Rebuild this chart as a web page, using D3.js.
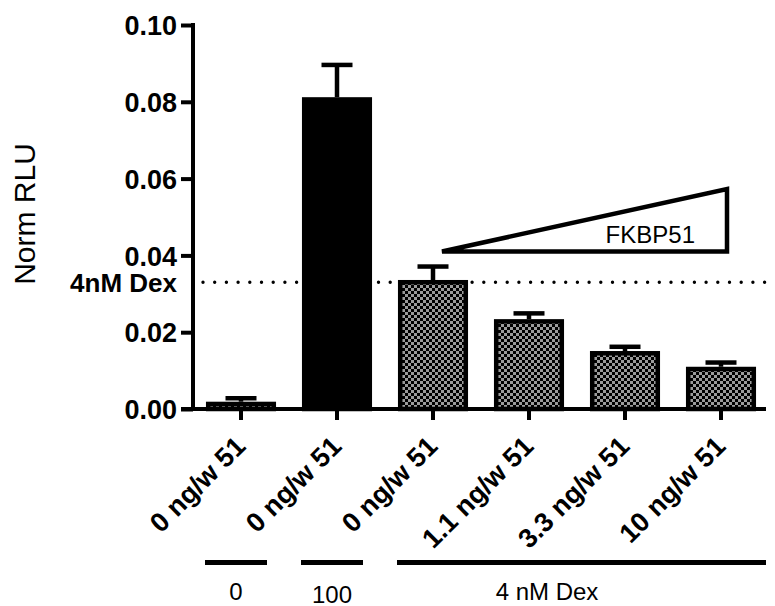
<!DOCTYPE html>
<html>
<head>
<meta charset="utf-8">
<script src="https://cdn.jsdelivr.net/npm/d3@7"></script>
<style>
  html, body { margin: 0; padding: 0; background: #fff; }
  svg { display: block; }
  text { font-family: "Liberation Sans", Arial, sans-serif; fill: #000; }
</style>
</head>
<body>
<svg id="chart" width="775" height="606"></svg>
<script>
// ---- data ----
const categories = ["0 ng/w 51 (0)", "0 ng/w 51 (100)", "0 ng/w 51 (Dex)", "1.1 ng/w 51", "3.3 ng/w 51", "10 ng/w 51"];
const tickLabels = ["0 ng/w 51", "0 ng/w 51", "0 ng/w 51", "1.1 ng/w 51", "3.3 ng/w 51", "10 ng/w 51"];
const means = [0.0019, 0.0812, 0.0336, 0.0234, 0.0151, 0.0110];
const sems  = [0.0009, 0.0084, 0.0035, 0.0015, 0.0011, 0.0011];
const fills = ["checker", "black", "checker", "checker", "checker", "checker"];
const yTicks = [0, 0.02, 0.04, 0.06, 0.08, 0.10];
const dexLevel = 0.033;
const groupNames = ["0", "100", "4 nM Dex"];
const groupStart = [0, 1, 2];
const groupEnd = [0, 1, 5];
const triangleBase = 0.041, triangleTop = 0.0573;

// ---- layout ----
const svg = d3.select("#chart");
const x0 = 193, y0 = 409, yTop = 25;
const x = d3.scaleBand().domain(categories).range([x0, x0 + 576]).paddingInner(0.27).paddingOuter(0.135);
const y = d3.scaleLinear().domain([0, 0.1]).range([y0, yTop]);
const bw = x.bandwidth();
const cx = c => x(c) + bw / 2;
const sw = 4.5;

const defs = svg.append("defs");
const pat = defs.append("pattern").attr("id", "checker").attr("width", 6).attr("height", 6)
  .attr("patternUnits", "userSpaceOnUse");
pat.append("rect").attr("width", 6).attr("height", 6).attr("fill", "#9b9b9b");
pat.append("rect").attr("width", 3).attr("height", 3).attr("fill", "#000");
pat.append("rect").attr("x", 3).attr("y", 3).attr("width", 3).attr("height", 3).attr("fill", "#000");

// dotted reference line
svg.append("line")
  .attr("x1", x0 + 10).attr("x2", 766)
  .attr("y1", y(dexLevel)).attr("y2", y(dexLevel))
  .attr("stroke", "#000").attr("stroke-width", 3.4)
  .attr("stroke-linecap", "round").attr("stroke-dasharray", "0 11.7");

// bars
svg.append("g").selectAll("rect").data(categories).join("rect")
  .attr("x", c => x(c) + sw / 2)
  .attr("width", bw - sw)
  .attr("y", (c, i) => y(means[i]) + sw / 2)
  .attr("height", (c, i) => Math.max(0, y(0) - y(means[i]) - sw / 2))
  .attr("fill", (c, i) => fills[i] === "black" ? "#000" : "url(#checker)")
  .attr("stroke", "#000").attr("stroke-width", sw);

// error bars (upper only)
const eg = svg.append("g").attr("stroke", "#000").attr("stroke-width", 4.5);
categories.forEach((c, i) => {
  eg.append("line").attr("x1", cx(c)).attr("x2", cx(c))
    .attr("y1", y(means[i])).attr("y2", y(means[i] + sems[i]));
  eg.append("line").attr("x1", cx(c) - 15.5).attr("x2", cx(c) + 15.5)
    .attr("y1", y(means[i] + sems[i])).attr("y2", y(means[i] + sems[i]));
});

// y axis
const yAxis = svg.append("g").attr("transform", `translate(${x0},0)`)
  .call(d3.axisLeft(y).tickValues(yTicks).tickFormat(d3.format(".2f")).tickSize(12).tickSizeOuter(0).tickPadding(4));
yAxis.selectAll("path, line").attr("stroke", "#000").attr("stroke-width", 4);
yAxis.select("path.domain").attr("d", `M0,${y0 + 2}V${yTop - 2}`);
yAxis.selectAll("text").style("font-size", "27px").style("font-weight", "bold").attr("dy", "0.36em");

// x axis
const xAxis = svg.append("g").attr("transform", `translate(0,${y0})`)
  .call(d3.axisBottom(x).tickSize(11).tickSizeOuter(0).tickFormat(""));
xAxis.select("path.domain").remove();
xAxis.selectAll("line").attr("stroke", "#000").attr("stroke-width", 4);
svg.append("line").attr("x1", 181).attr("x2", 766).attr("y1", y0).attr("y2", y0)
  .attr("stroke", "#000").attr("stroke-width", 4);

// rotated category labels
svg.append("g").selectAll("text").data(categories).join("text")
  .attr("transform", c => `translate(${cx(c) + 6},448) rotate(-45)`)
  .attr("text-anchor", "end")
  .style("font-size", "27px").style("font-weight", "bold")
  .text((c, i) => tickLabels[i]);

// y title
svg.append("text").attr("transform", "translate(35,214) rotate(-90)")
  .attr("text-anchor", "middle").style("font-size", "30px")
  .text("Norm RLU");

// dex label on left
svg.append("text").attr("x", 177).attr("y", y(dexLevel) + 10)
  .attr("text-anchor", "end").style("font-size", "26px").style("font-weight", "bold")
  .text("4nM Dex");

// FKBP51 triangle
const tl = cx(categories[2]) + 9, tr = cx(categories[5]) + 6;
svg.append("path")
  .attr("d", `M${tl},${y(triangleBase)}L${tr},${y(triangleBase)}L${tr},${y(triangleTop)}Z`)
  .attr("fill", "#fff").attr("stroke", "#000").attr("stroke-width", 4.5).attr("stroke-linejoin", "miter");
svg.append("text").attr("x", tr - 32).attr("y", y(triangleBase) - 9)
  .attr("text-anchor", "end").style("font-size", "24px").text("FKBP51");

// treatment groups below
const gg = svg.append("g");
groupNames.forEach((g, i) => {
  const xs = cx(categories[groupStart[i]]) - 36;
  const xe = groupEnd[i] === 5 ? 766 : cx(categories[groupEnd[i]]) + 26;
  gg.append("line").attr("x1", xs).attr("x2", xe).attr("y1", 562.5).attr("y2", 562.5)
    .attr("stroke", "#000").attr("stroke-width", 5);
});
gg.append("text").attr("x", cx(categories[0]) - 5).attr("y", 600).attr("text-anchor", "middle")
  .style("font-size", "24px").text(groupNames[0]);
gg.append("text").attr("x", cx(categories[1]) - 5).attr("y", 603).attr("text-anchor", "middle")
  .style("font-size", "24px").text(groupNames[1]);
gg.append("text").attr("x", cx(categories[3]) + 18).attr("y", 600).attr("text-anchor", "middle")
  .style("font-size", "24px").text(groupNames[2]);
</script>
</body>
</html>
